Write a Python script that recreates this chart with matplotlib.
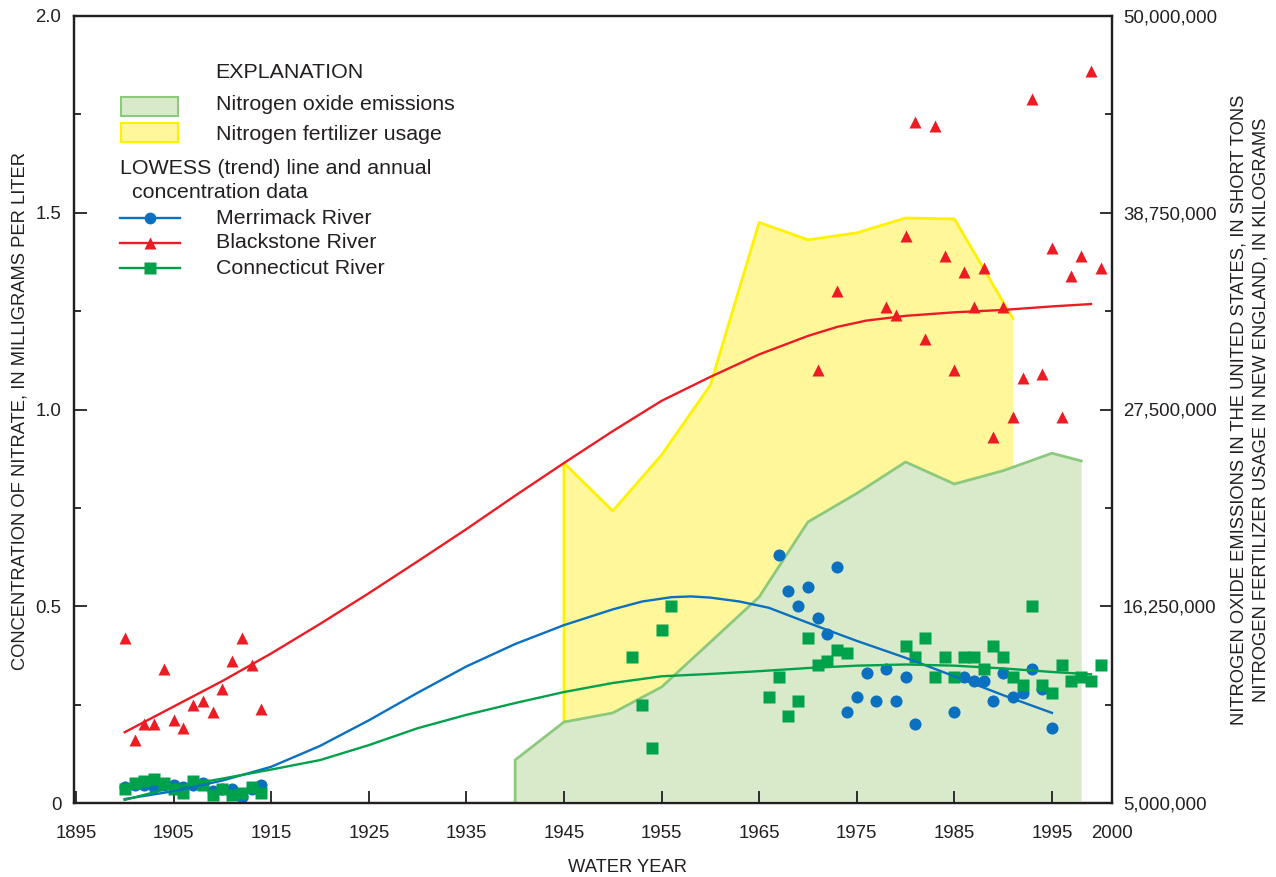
import matplotlib
matplotlib.use('Agg')
import matplotlib.pyplot as plt
from matplotlib.ticker import AutoMinorLocator, FuncFormatter
from matplotlib.patches import Rectangle
from matplotlib.lines import Line2D

plt.rcParams['font.family'] = ['Liberation Sans', 'DejaVu Sans']

# ---- data ----
early_years = [1900, 1901, 1902, 1903, 1904, 1905, 1906, 1907, 1908, 1909,
               1910, 1911, 1912, 1913, 1914]
merrimack_early = [0.04, 0.045, 0.045, 0.04, 0.045, 0.045, 0.04, 0.045, 0.052, 0.03,
                   0.035, 0.035, 0.015, 0.035, 0.045]
blackstone_early = [0.42, 0.16, 0.20, 0.20, 0.34, 0.21, 0.19, 0.25, 0.26, 0.23,
                    0.29, 0.36, 0.42, 0.35, 0.24]
connecticut_early = [0.035, 0.05, 0.055, 0.06, 0.05, 0.035, 0.025, 0.055, 0.045, 0.02,
                     0.035, 0.02, 0.025, 0.04, 0.025]

merrimack_years = [1967, 1968, 1969, 1970, 1971, 1972, 1973, 1974, 1975, 1976,
                   1977, 1978, 1979, 1980, 1981, 1985, 1986, 1987, 1988, 1989,
                   1990, 1991, 1992, 1993, 1994, 1995]
merrimack_late = [0.63, 0.54, 0.50, 0.55, 0.47, 0.43, 0.60, 0.23, 0.27, 0.33,
                  0.26, 0.34, 0.26, 0.32, 0.20, 0.23, 0.32, 0.31, 0.31, 0.26,
                  0.33, 0.27, 0.28, 0.34, 0.29, 0.19]

blackstone_years = [1971, 1973, 1978, 1979, 1980, 1981, 1982, 1983, 1984, 1985,
                    1986, 1987, 1988, 1989, 1990, 1991, 1992, 1993, 1994, 1995,
                    1996, 1997, 1998, 1999, 2000]
blackstone_late = [1.10, 1.30, 1.26, 1.24, 1.44, 1.73, 1.18, 1.72, 1.39, 1.10,
                   1.35, 1.26, 1.36, 0.93, 1.26, 0.98, 1.08, 1.79, 1.09, 1.41,
                   0.98, 1.34, 1.39, 1.86, 1.36]

connecticut_years = [1952, 1953, 1954, 1955, 1956, 1966, 1967, 1968, 1969, 1970,
                     1971, 1972, 1973, 1974, 1980, 1981, 1982, 1983, 1984, 1985,
                     1986, 1987, 1988, 1989, 1990, 1991, 1992, 1993, 1994, 1995,
                     1996, 1997, 1998, 1999, 2000]
connecticut_late = [0.37, 0.25, 0.14, 0.44, 0.50, 0.27, 0.32, 0.22, 0.26, 0.42,
                    0.35, 0.36, 0.39, 0.38, 0.40, 0.37, 0.42, 0.32, 0.37, 0.32,
                    0.37, 0.37, 0.34, 0.40, 0.37, 0.32, 0.30, 0.50, 0.30, 0.28,
                    0.35, 0.31, 0.32, 0.31, 0.35]

# LOWESS trend lines
trend_years_red = [1900, 1905, 1910, 1915, 1920, 1925, 1930, 1935, 1940, 1945,
                   1950, 1955, 1960, 1965, 1970, 1973, 1976, 1980, 1985, 1990,
                   1995, 1999]
blackstone_trend = [0.18, 0.245, 0.31, 0.38, 0.455, 0.533, 0.614, 0.696, 0.781, 0.864,
                    0.945, 1.022, 1.083, 1.14, 1.187, 1.21, 1.226, 1.238, 1.247, 1.253,
                    1.262, 1.268]

trend_years_blue = [1900, 1905, 1910, 1915, 1920, 1925, 1930, 1935, 1940, 1945,
                    1950, 1953, 1956, 1958, 1960, 1963, 1966, 1970, 1975, 1980,
                    1985, 1990, 1995]
merrimack_trend = [0.01, 0.03, 0.057, 0.092, 0.145, 0.21, 0.28, 0.347, 0.404, 0.452,
                   0.492, 0.512, 0.523, 0.525, 0.522, 0.512, 0.496, 0.458, 0.412, 0.369,
                   0.322, 0.274, 0.229]

trend_years_green = [1900, 1905, 1910, 1915, 1920, 1925, 1930, 1935, 1940, 1945,
                     1950, 1955, 1960, 1965, 1970, 1975, 1980, 1985, 1990, 1995, 1999]
connecticut_trend = [0.008, 0.04, 0.062, 0.085, 0.109, 0.147, 0.19, 0.224, 0.254, 0.282,
                     0.305, 0.322, 0.328, 0.335, 0.343, 0.349, 0.352, 0.349, 0.342, 0.333, 0.327]

# fertilizer usage (kg) and NOx emissions (short tons), right axis
fert_years = [1945, 1950, 1955, 1960, 1965, 1970, 1975, 1980, 1985, 1991]
fert_values = [24.44e6, 21.7e6, 24.9e6, 28.9e6, 38.2e6, 37.2e6, 37.6e6, 38.45e6, 38.4e6, 32.7e6]

nox_years = [1940, 1945, 1950, 1955, 1960, 1965, 1970, 1975, 1980, 1985, 1990, 1995, 1998]
nox_values = [7.46e6, 9.63e6, 10.15e6, 11.63e6, 14.2e6, 16.78e6, 21.07e6, 22.7e6,
              24.5e6, 23.24e6, 24.0e6, 25.0e6, 24.56e6]

x_tick_pos = [1895, 1905, 1915, 1925, 1935, 1945, 1955, 1965, 1975, 1985, 1995, 2001.15]
x_tick_labels = ['1895', '1905', '1915', '1925', '1935', '1945', '1955', '1965',
                 '1975', '1985', '1995', '2000']
left_ticks = [0, 0.5, 1.0, 1.5, 2.0]
left_tick_labels = ['0', '0.5', '1.0', '1.5', '2.0']
right_ticks = [5e6, 16.25e6, 27.5e6, 38.75e6, 50e6]

# ---- styling ----
BLUE = '#0a70bf'
RED = '#ed1c24'
GREEN = '#00a14b'
INK = '#231f20'
YELLOW_FILL = '#fff799'
YELLOW_LINE = '#fff200'
NOX_FILL = '#d9eacb'
NOX_LINE = '#8cc97e'

W, H = 1276, 877
fig = plt.figure(figsize=(W / 100, H / 100), dpi=100)
ax = fig.add_axes([74 / W, 1 - 803 / H, 1038 / W, 787 / H])
ax2 = ax.twinx()
ax.set_zorder(ax2.get_zorder() + 1)
ax.patch.set_visible(False)

# background areas on the right axis
ax2.fill_between(fert_years, 5e6, fert_values, color=YELLOW_FILL, lw=0, zorder=1)
ax2.plot([fert_years[0]] + fert_years, [5e6] + fert_values, color=YELLOW_LINE, lw=2,
         zorder=2)
ax2.fill_between(nox_years, 5e6, nox_values, color=NOX_FILL, lw=0, zorder=3)
ax2.plot([nox_years[0]] + nox_years, [5e6] + nox_values, color=NOX_LINE, lw=2, zorder=4)

# trend lines and data
ms = 8.7
ax.plot(early_years, merrimack_early, 'o', color=BLUE, ms=ms, mec='none')
ax.plot(merrimack_years, merrimack_late, 'o', color=BLUE, ms=ms, mec='none')
ax.plot(early_years, connecticut_early, 's', color=GREEN, ms=ms - 0.5, mec='none')
ax.plot(connecticut_years, connecticut_late, 's', color=GREEN, ms=ms - 0.5, mec='none')
ax.plot(early_years, blackstone_early, '^', color=RED, ms=ms + 0.5, mec='none')
ax.plot(blackstone_years, blackstone_late, '^', color=RED, ms=ms + 0.5, mec='none')

ax.plot(trend_years_red, blackstone_trend, color=RED, lw=1.7)
ax.plot(trend_years_blue, merrimack_trend, color=BLUE, lw=1.7)
ax.plot(trend_years_green, connecticut_trend, color=GREEN, lw=1.7)

# axes
ax.set_xlim(1894.8, 2001.15)
ax.set_ylim(0, 2.0)
ax2.set_ylim(5e6, 50e6)
ax.set_xticks(x_tick_pos)
ax.set_xticklabels(x_tick_labels)
ax.set_yticks(left_ticks)
ax.set_yticklabels(left_tick_labels)
ax.yaxis.set_minor_locator(AutoMinorLocator(2))
ax2.set_yticks(right_ticks)
ax2.yaxis.set_minor_locator(AutoMinorLocator(2))
ax2.yaxis.set_major_formatter(FuncFormatter(lambda v, p: '{:,.0f}'.format(v)))

for a in (ax, ax2):
    for s in a.spines.values():
        s.set_linewidth(1.6)
        s.set_color(INK)
ax.tick_params(axis='x', direction='in', length=9, width=1.3, color=INK,
               labelcolor=INK, labelsize=13.4, pad=16)
ax.tick_params(axis='y', which='major', direction='in', length=9, width=1.3, color=INK,
               labelcolor=INK, labelsize=13.4, pad=9)
ax.tick_params(axis='y', which='minor', direction='in', length=5, width=1.3, color=INK)
ax2.tick_params(axis='y', which='major', direction='in', length=9, width=1.3, color=INK,
                labelcolor=INK, labelsize=13.4, pad=8)
ax2.tick_params(axis='y', which='minor', direction='in', length=5, width=1.3, color=INK)

fig.text(20 / W, 1 - 411 / H, 'CONCENTRATION OF NITRATE, IN MILLIGRAMS PER LITER',
         rotation=90, ha='center', va='center', fontsize=13.2, color=INK)
fig.text(1250 / W, 1 - 410 / H,
         'NITROGEN OXIDE EMISSIONS IN THE UNITED STATES, IN SHORT TONS\n'
         'NITROGEN FERTILIZER USAGE IN NEW ENGLAND, IN KILOGRAMS',
         rotation=90, ha='center', va='center', multialignment='center',
         fontsize=13.2, color=INK, linespacing=1.45)
fig.text(627 / W, 1 - 867 / H, 'WATER YEAR', ha='center', va='center',
         fontsize=13.2, color=INK)


# ---- explanation (legend) in pixel coordinates ----
def fx(px):
    return px / W


def fy(py):
    return 1 - py / H


lfs = 15.4
fig.text(fx(215), fy(72), 'EXPLANATION', ha='left', va='center', fontsize=lfs, color=INK)
fig.patches.append(Rectangle((fx(121), fy(116)), fx(57), 19 / H, transform=fig.transFigure,
                             facecolor=NOX_FILL, edgecolor=NOX_LINE, lw=1.5))
fig.patches.append(Rectangle((fx(121), fy(142)), fx(57), 19 / H, transform=fig.transFigure,
                             facecolor=YELLOW_FILL, edgecolor=YELLOW_LINE, lw=1.5))
fig.text(fx(216), fy(104), 'Nitrogen oxide emissions', ha='left', va='center',
         fontsize=lfs, color=INK)
fig.text(fx(216), fy(134), 'Nitrogen fertilizer usage', ha='left', va='center',
         fontsize=lfs, color=INK)
fig.text(fx(120), fy(168), 'LOWESS (trend) line and annual', ha='left', va='center',
         fontsize=lfs, color=INK)
fig.text(fx(132), fy(192), 'concentration data', ha='left', va='center',
         fontsize=lfs, color=INK)

legend_rows = [('Merrimack River', BLUE, 'o', 218),
               ('Blackstone River', RED, '^', 243),
               ('Connecticut River', GREEN, 's', 268)]
for label, col, mk, py in legend_rows:
    fig.lines.append(Line2D([fx(120), fx(180)], [fy(py), fy(py)], transform=fig.transFigure,
                            color=col, lw=1.7))
    fig.lines.append(Line2D([fx(150)], [fy(py)], transform=fig.transFigure, color=col,
                            marker=mk, ms=8.5, mec='none', ls='none'))
    fig.text(fx(216), fy(py), label, ha='left', va='center', fontsize=lfs, color=INK)

fig.savefig('out.png', dpi=100)
